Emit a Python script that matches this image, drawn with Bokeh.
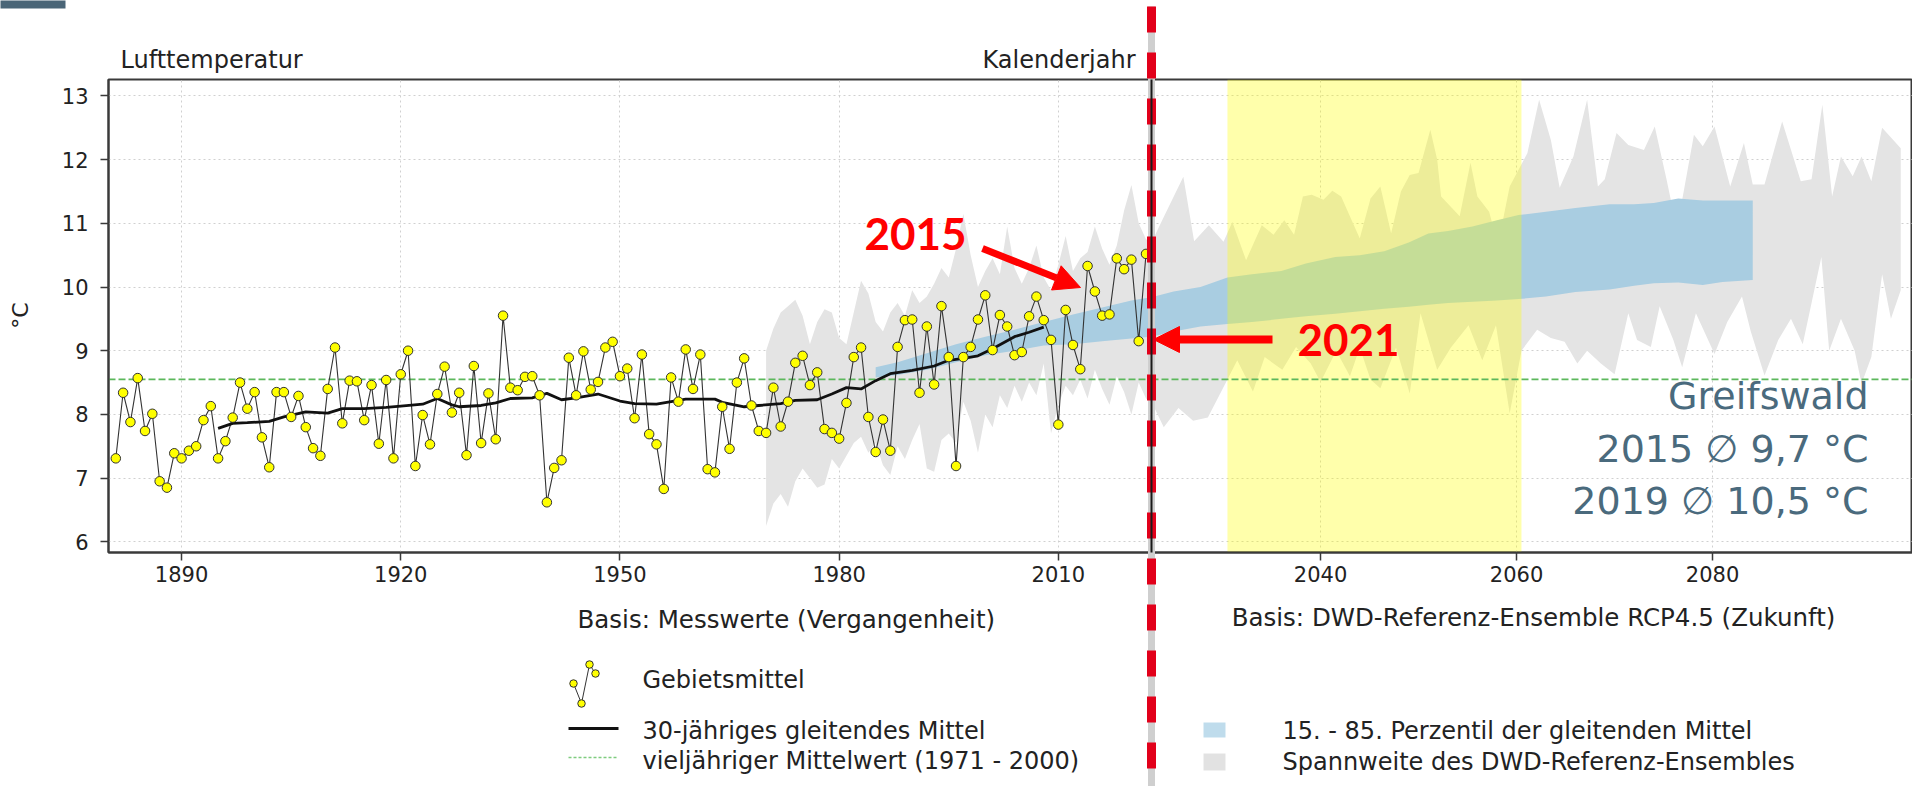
import math
from bokeh.plotting import figure
from bokeh.layouts import row
from bokeh.models import Range1d, FixedTicker, Arrow, NormalHead
from bokeh.core.properties import value
from bokeh.embed import file_html
from bokeh.resources import INLINE

# ------------------------------------------------------------------ data
years = list(range(1881, 2023))
temps = [
    7.31, 8.34, 7.88, 8.57, 7.74, 8.01, 6.95, 6.85, 7.39, 7.31,   # 1881-1890
    7.43, 7.50, 7.91, 8.13, 7.31, 7.58, 7.95, 8.50, 8.09, 8.35,   # 1891-1900
    7.64, 7.17, 8.35, 8.35, 7.96, 8.29, 7.80, 7.47, 7.35, 8.40,   # 1901-1910
    9.05, 7.86, 8.53, 8.52, 7.91, 8.46, 7.54, 8.54, 7.31, 8.63,   # 1911-1920
    9.00, 7.19, 7.99, 7.53, 8.32, 8.75, 8.03, 8.34, 7.36, 8.76,   # 1921-1930
    7.55, 8.33, 7.61, 9.55, 8.42, 8.38, 8.59, 8.60, 8.30, 6.62,   # 1931-1940
    7.16, 7.28, 8.89, 8.30, 8.99, 8.39, 8.51, 9.05, 9.14, 8.60,   # 1941-1950
    8.72, 7.94, 8.94, 7.69, 7.53, 6.83, 8.58, 8.20, 9.02, 8.40,   # 1951-1960
    8.94, 7.14, 7.09, 8.12, 7.46, 8.50, 8.88, 8.14, 7.74, 7.71,   # 1961-1970
    8.42, 7.81, 8.20, 8.81, 8.92, 8.46, 8.66, 7.77, 7.71, 7.62,   # 1971-1980
    8.18, 8.90, 9.05, 7.96, 7.41, 7.92, 7.43, 9.06, 9.48, 9.49,   # 1981-1990
    8.34, 9.38, 8.47, 9.70, 8.90, 7.19, 8.90, 9.06, 9.49, 9.87,   # 1991-2000
    9.01, 9.56, 9.38, 8.93, 8.98, 9.54, 9.85, 9.48, 9.17, 7.84,   # 2001-2010
    9.64, 9.09, 8.71, 10.33, 9.93, 9.55, 9.57, 10.45, 10.28, 10.43,  # 2011-2020
    9.15, 10.52,                                                  # 2021-2022
]

ma_years = [1895, 1897, 1899, 1902, 1904, 1907, 1910, 1912, 1915, 1918, 1920, 1923,
            1925, 1927, 1928, 1931, 1933, 1935, 1938, 1940, 1942, 1944, 1947, 1950,
            1952, 1955, 1957, 1959, 1963, 1964, 1967, 1969, 1972, 1974, 1977, 1979,
            1981, 1983, 1985, 1987, 1990, 1993, 1995, 1997, 1999, 2001, 2004, 2006, 2008]
ma_vals = [7.78, 7.86, 7.87, 7.89, 7.96, 8.04, 8.02, 8.09, 8.09, 8.11, 8.13, 8.16,
           8.25, 8.15, 8.12, 8.14, 8.18, 8.25, 8.26, 8.33, 8.23, 8.26, 8.32, 8.21,
           8.17, 8.16, 8.20, 8.24, 8.24, 8.19, 8.12, 8.14, 8.17, 8.22, 8.23, 8.32,
           8.42, 8.40, 8.53, 8.64, 8.69, 8.76, 8.85, 8.88, 8.92, 9.03, 9.22, 9.29, 9.37]

ref_mean = 8.55   # vieljaehriger Mittelwert 1971-2000

# ensemble range (past side)
past_rng_years = list(range(1970, 2023)) + [2022.75]
past_rng_hi = [9.0, 9.35, 9.6, 9.7, 9.8, 9.55, 9.1, 9.45, 9.65, 9.6,
               9.2, 9.1, 9.6, 10.1, 9.9, 9.45, 9.3, 9.6, 9.75, 9.55,
               9.95, 9.75, 9.85, 10.05, 10.3, 10.15, 10.6, 11.15, 10.5, 10.0,
               10.25, 10.45, 10.2, 10.95, 10.3, 10.05, 10.3, 10.65, 10.15, 9.95,
               10.35, 10.8, 10.25, 10.45, 10.55, 10.95, 10.6, 10.35, 10.65, 11.2,
               11.6, 11.0, 10.75, 10.7]
past_rng_lo = [6.25, 6.6, 6.75, 6.55, 6.95, 7.15, 7.0, 6.85, 6.9, 7.3,
               7.15, 7.35, 7.55, 7.65, 7.4, 7.55, 7.2, 7.05, 7.5, 7.3,
               7.6, 7.85, 7.15, 7.1, 7.6, 7.7, 7.55, 8.2, 7.9, 7.4,
               8.0, 7.8, 8.3, 8.1, 8.45, 8.2, 8.5, 8.3, 8.8, 7.7,
               8.15, 8.45, 8.3, 8.55, 8.25, 8.7, 8.4, 8.15, 8.6, 8.35,
               8.0, 8.5, 8.25, 8.2]

# 15.-85. percentile (past side)
past_pct_years = [1985, 1988, 1992, 1996, 2000, 2004, 2008, 2012, 2016, 2020, 2022.75]
past_pct_lo = [8.58, 8.62, 8.70, 8.82, 8.93, 9.00, 9.08, 9.10, 9.15, 9.19, 9.22]
past_pct_hi = [8.74, 8.82, 8.96, 9.10, 9.22, 9.33, 9.45, 9.57, 9.68, 9.79, 9.84]

# 15.-85. percentile (future)
fut_pct_years = [2022.75, 2025, 2027.75, 2030.5, 2033, 2036, 2038.5, 2041.5, 2044, 2046.5,
                 2049, 2051, 2053, 2055.5, 2058, 2060.2, 2063, 2066, 2069.5, 2072,
                 2074, 2076.5, 2079, 2081, 2084.1]
fut_pct_hi = [9.84, 9.93, 10.0, 10.15, 10.2, 10.25, 10.37, 10.47, 10.5, 10.56,
              10.7, 10.84, 10.88, 10.95, 11.05, 11.13, 11.18, 11.24, 11.30, 11.30,
              11.32, 11.39, 11.36, 11.36, 11.36]
fut_pct_lo = [9.22, 9.30, 9.38, 9.42, 9.45, 9.50, 9.54, 9.58, 9.62, 9.66,
              9.69, 9.72, 9.75, 9.77, 9.79, 9.81, 9.85, 9.92, 9.96, 10.02,
              10.06, 10.07, 10.03, 10.08, 10.11]

# ensemble range (future): upper envelope
fut_hi_years = [2022.75, 2024, 2026, 2027.1, 2028.6, 2030.1, 2031, 2032.4, 2034, 2035.2,
                2036.3, 2037.3, 2038.2, 2039.1, 2040.3, 2041.2, 2042.1, 2044, 2045.1, 2046.1,
                2047.2, 2048.2, 2049.1, 2050, 2051.2, 2051.9, 2052.3, 2054.2, 2055.3, 2056,
                2057.2, 2058.1, 2059.3, 2061.1, 2062.3, 2063.5, 2064.4, 2065.8, 2067.2, 2068.3,
                2069, 2070.2, 2071.4, 2073, 2074.1, 2075.3, 2076.2, 2076.9, 2078.1, 2079,
                2080.2, 2081.8, 2083.2, 2084.1, 2085.3, 2087.1, 2089, 2090.1, 2091.2, 2092.2,
                2093.1, 2094.3, 2095.2, 2096.2, 2097.3, 2099.2]
fut_hi_vals = [10.7, 11.1, 11.73, 10.72, 10.97, 10.71, 11.02, 10.42, 10.97, 10.82,
               11.05, 10.82, 11.42, 11.45, 11.37, 11.51, 11.42, 10.76, 11.39, 11.58,
               10.84, 11.5, 11.76, 11.79, 12.47, 12.0, 11.42, 11.11, 11.95, 11.42,
               11.18, 10.66, 11.58, 12.1, 12.94, 12.31, 11.56, 12.05, 12.94, 11.58,
               11.69, 12.42, 12.23, 12.15, 12.52, 11.69, 11.03, 11.37, 12.39, 12.21,
               12.52, 11.58, 12.26, 11.61, 11.61, 12.6, 11.66, 11.69, 12.86, 11.42,
               12.05, 11.74, 12.05, 11.66, 12.5, 12.18]
# ensemble range (future): lower envelope
fut_lo_years = [2022.75, 2024, 2025.5, 2027, 2028.5, 2030, 2031.5, 2033.1, 2034.3, 2036.1,
                2037.5, 2039, 2040, 2041.6, 2043, 2044, 2045.1, 2046.1, 2047.7, 2049.1,
                2050.2, 2051.9, 2053.3, 2055.1, 2056.5, 2057.9, 2059.3, 2060.5, 2062.1, 2063.5,
                2064.9, 2066.2, 2067.2, 2068.6, 2070, 2071.4, 2072.3, 2073.7, 2074.6, 2076,
                2076.9, 2078.3, 2080.2, 2081.5, 2083, 2083.9, 2085.3, 2086.7, 2088, 2089.2,
                2091.1, 2091.9, 2093.1, 2094.5, 2095.2, 2096.2, 2097.3, 2098.2, 2099.2]
fut_lo_vals = [8.2, 7.8, 8.1, 7.9, 7.95, 8.4, 8.85, 8.36, 8.9, 8.7,
               9.06, 8.8, 8.51, 9.0, 8.6, 9.05, 8.55, 8.41, 9.05, 8.33,
               9.59, 8.7, 9.05, 9.4, 8.85, 9.4, 8.02, 9.0, 9.33, 9.2,
               9.14, 8.8, 9.0, 8.8, 8.63, 9.59, 9.17, 9.06, 9.7, 9.17,
               8.74, 9.59, 8.95, 9.45, 9.85, 9.3, 8.61, 9.17, 9.5, 9.1,
               10.47, 9.0, 9.5, 9.0, 8.48, 8.9, 10.2, 9.5, 9.95]

period = [2031, 2060]          # highlighted 30-year period
past_ticks = [1890, 1920, 1950, 1980, 2010]
future_ticks = [2040, 2060, 2080]
y_ticks = [6, 7, 8, 9, 10, 11, 12, 13]

station_lines = ["Greifswald", "2015 \u2205 9,7 \u00b0C", "2019 \u2205 10,5 \u00b0C"]
legend_left = ["Gebietsmittel", "30-j\u00e4hriges gleitendes Mittel",
               "vielj\u00e4hriger Mittelwert (1971 - 2000)"]
legend_right = ["15. - 85. Perzentil der gleitenden Mittel",
                "Spannweite des DWD-Referenz-Ensembles"]

# ------------------------------------------------------------------ layout
X_PAST0, X_SPLIT, X_FUT1 = 1880.0, 2022.75, 2100.4
Y0, Y1 = 5.832, 13.258
H = 786
TOP, FRAME_H = 79, 473
BOTTOM = H - TOP - FRAME_H
LEFT = 108
WL_FRAME, WR_FRAME = 1043, 761

PL_FX = LEFT                # page x of left frame edge
PR_FX = PL_FX + WL_FRAME    # page x of split
P_FY = TOP                  # page y of frame top


def lx(px):
    return X_PAST0 + (px - PL_FX) * (X_SPLIT - X_PAST0) / WL_FRAME


def rx(px):
    return X_SPLIT + (px - PR_FX) * (X_FUT1 - X_SPLIT) / WR_FRAME


def vy(py):
    return Y1 - (py - P_FY) * (Y1 - Y0) / FRAME_H


GRAY = "#e4e4e4"
BLUE = "#a9cde1"
GREEN = "#5cb85c"
RED = "#ff0000"
LINE_RED = "#e2001a"
TXT = "#222222"
AX = "#3a3a3a"
SLATE = "#4a6a7d"
FONT = "DejaVu Sans"

yr = Range1d(Y0, Y1)
common = dict(height=H, y_range=yr, output_backend="svg", toolbar_location=None,
              title=None, min_border_top=TOP, min_border_bottom=BOTTOM,
              background_fill_color="white", border_fill_color="white",
              outline_line_color=AX, outline_line_width=2)

pl = figure(width=LEFT + WL_FRAME, x_range=Range1d(X_PAST0, X_SPLIT),
            min_border_left=LEFT, min_border_right=0, **common)
pr = figure(width=WR_FRAME, x_range=Range1d(X_SPLIT, X_FUT1),
            min_border_left=0, min_border_right=0, y_axis_location=None, **common)


def style_axis(ax, ticks, standoff):
    ax.ticker = FixedTicker(ticks=ticks)
    ax.major_tick_out = 8
    ax.major_tick_in = 0
    ax.minor_tick_line_color = None
    ax.axis_line_color = AX
    ax.axis_line_width = 2
    ax.major_tick_line_color = AX
    ax.major_tick_line_width = 1.5
    ax.major_label_text_font = FONT
    ax.major_label_text_font_size = "21px"
    ax.major_label_text_color = TXT
    ax.major_label_standoff = standoff


style_axis(pl.xaxis[0], past_ticks, 5)
style_axis(pl.yaxis[0], y_ticks, 12)
style_axis(pr.xaxis[0], future_ticks, 5)

for g, t in ((pl.xgrid[0], past_ticks), (pl.ygrid[0], y_ticks),
             (pr.xgrid[0], future_ticks), (pr.ygrid[0], y_ticks)):
    g.ticker = FixedTicker(ticks=t)
    g.grid_line_color = "#d0d0d0"
    g.grid_line_dash = "2 3"
    g.grid_line_width = 1


def txt(fig, x, base_py, s, size_px, color=TXT, align="left", font=FONT, style="normal"):
    # base_py: baseline in page pixels; small correction for the glyph box
    y = vy(base_py - 0.28 * size_px)
    fig.text(x=[x], y=[y], text=[s], text_font=value(font),
             text_font_size="%gpx" % size_px, text_color=color, text_align=align,
             text_baseline="alphabetic", text_font_style=style, level="overlay")


# ---------------- left panel (Vergangenheit)
pl.varea(x=past_rng_years, y1=past_rng_lo, y2=past_rng_hi, fill_color=GRAY)
pl.varea(x=past_pct_years, y1=past_pct_lo, y2=past_pct_hi, fill_color=BLUE)
pl.line([X_PAST0, X_SPLIT], [ref_mean, ref_mean], line_color=GREEN, line_width=1.6,
        line_dash="7 3")
pl.line(years, temps, line_color="#333333", line_width=1.1)
pl.line(ma_years, ma_vals, line_color="#111111", line_width=2.8)
pl.scatter(years, temps, size=9.5, fill_color="#ffff00", line_color="#333333",
           line_width=1)

# ---------------- right panel (Zukunft)
pr.patch(fut_hi_years + fut_lo_years[::-1], fut_hi_vals + fut_lo_vals[::-1],
         fill_color=GRAY, line_color=None)
pr.varea(x=fut_pct_years, y1=fut_pct_lo, y2=fut_pct_hi, fill_color=BLUE)
pr.quad(left=[period[0] - 0.5], right=[period[1] + 0.5], bottom=[Y0], top=[Y1],
        fill_color="#ffff00", fill_alpha=0.33, line_color=None)
pr.line([X_SPLIT, X_FUT1], [ref_mean, ref_mean], line_color=GREEN, line_width=1.6,
        line_dash="7 3")

# ---------------- red dashed separator (drawn half in each panel)
for fig in (pl, pr):
    fig.segment(x0=[X_SPLIT], y0=[vy(6)], x1=[X_SPLIT], y1=[vy(787)],
                line_color="#cfcfcf", line_width=7, level="overlay")
    fig.segment(x0=[X_SPLIT], y0=[vy(6)], x1=[X_SPLIT], y1=[vy(787)],
                line_color=LINE_RED, line_width=9, line_dash="26 20",
                line_dash_offset=0, level="overlay")
    fig.segment(x0=[X_SPLIT], y0=[Y0], x1=[X_SPLIT], y1=[Y1],
                line_color="#1a1a1a", line_width=2, level="overlay")

# small slate header mark (top-left corner of the slide)
pl.quad(left=[lx(0)], right=[lx(65)], top=[vy(0)], bottom=[vy(8)],
        fill_color="#4a6577", line_color=None, level="overlay")

# ---------------- texts around the plot
txt(pl, lx(120), 66, "Lufttemperatur", 24)
txt(pl, lx(1135), 66, "Kalenderjahr", 24, align="right")
pl.text(x=[lx(20)], y=[vy(315)], text=["\u00b0C"], text_font=value(FONT),
        text_font_size="22px", text_color=TXT, text_align="center",
        text_baseline="middle", angle=math.pi / 2, level="overlay")
txt(pl, lx(577), 626, "Basis: Messwerte (Vergangenheit)", 24.5)
txt(pr, rx(1533), 624, "Basis: DWD-Referenz-Ensemble RCP4.5 (Zukunft)", 24.5,
    align="center")

# ---------------- annotations
txt(pl, lx(864), 246, "2015", 44, color=RED, font="Lato", style="bold")
pl.add_layout(Arrow(end=NormalHead(size=26, fill_color=RED, line_color=RED),
                    x_start=lx(982), y_start=vy(248), x_end=lx(1080), y_end=vy(287),
                    line_color=RED, line_width=7))
txt(pr, rx(1297), 352, "2021", 44, color=RED, font="Lato", style="bold")
pr.add_layout(Arrow(end=NormalHead(size=26, fill_color=RED, line_color=RED),
                    x_start=rx(1272), y_start=vy(339), x_end=rx(1153), y_end=vy(339),
                    line_color=RED, line_width=8))

for s, base in zip(station_lines, (406, 459, 511)):
    txt(pr, rx(1868), base, s, 38, color=SLATE, align="right")

# ---------------- legend (left)
zig_px = [573, 581, 589, 595]
zig_py = [683, 703, 664, 673]
pl.line([lx(v) for v in zig_px], [vy(v) for v in zig_py], line_color="#333333",
        line_width=1, level="overlay")
pl.ellipse(x=[lx(v) for v in zig_px], y=[vy(v) for v in zig_py], width=7.5, height=7.5,
           width_units="screen", height_units="screen",
           fill_color="#ffff00", line_color="#333333", line_width=1, level="overlay")
pl.line([lx(568), lx(618)], [vy(728), vy(728)], line_color="#111111", line_width=2.8,
        level="overlay")
pl.line([lx(568), lx(618)], [vy(757), vy(757)], line_color="#7fcc7f", line_width=1.5,
        line_dash="3 2", level="overlay")
for s, base in zip(legend_left, (686, 737, 767)):
    txt(pl, lx(642), base, s, 24)

# ---------------- legend (right)
pr.quad(left=[rx(1203)], right=[rx(1225)], top=[vy(722)], bottom=[vy(737)],
        fill_color="#bfdcec", line_color=None, level="overlay")
pr.quad(left=[rx(1203)], right=[rx(1225)], top=[vy(753)], bottom=[vy(770)],
        fill_color="#e2e2e2", line_color=None, level="overlay")
for s, base in zip(legend_right, (737, 768)):
    txt(pr, rx(1282), base, s, 24)

layout = row(pl, pr)
open("out.html", "w").write(file_html(layout, INLINE))
